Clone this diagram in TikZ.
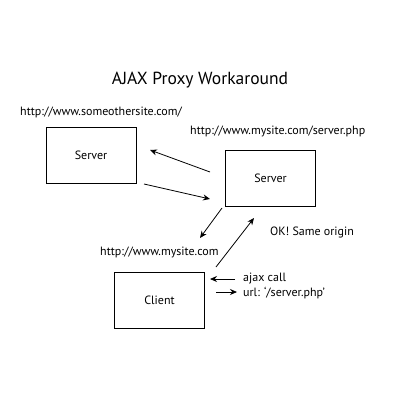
\documentclass[tikz,border=0pt]{standalone}
\usepackage{fontspec}
\setmainfont{PT Sans}
\usetikzlibrary{arrows.meta, positioning}
\tikzset{
  box/.style={draw, thick, minimum width=90pt, minimum height=56pt, font=\fontsize{12}{14}\selectfont},
  lbl/.style={font=\fontsize{12}{14}\selectfont, anchor=west, inner sep=0pt},
  flow/.style={-{Stealth[length=7pt,width=6pt]}, thick}
}
\begin{document}
\begin{tikzpicture}[x=1pt, y=-1pt]
  \useasboundingbox (0,0) rectangle (400,400);
  \node[font=\fontsize{17.5}{20}\selectfont] (title) at (200,80) {AJAX Proxy Workaround};
  % boxes
  \node[box] (other) at (91,155) {Server};
  \node[box] (proxy) at (270.5,178) {Server};
  \node[box] (client) at (159.5,300) {Client};
  % urls
  \node[lbl] (otherurl) at (20,112) {http://www.someothersite.com/};
  \node[lbl] (proxyurl) at (190,131) {http://www.mysite.com/server.php};
  \node[lbl] (clienturl) at (100,252) {http://www.mysite.com};
  \node[lbl] (same) at (270,232) {OK! Same origin};
  \node[lbl] (call) at (243,279) {ajax call};
  \node[lbl] (url) at (243,293) {url: `/server.php'};
  % arrow ends
  \coordinate (a1) at (210,172); \coordinate (b1) at (150,150);
  \coordinate (a2) at (144,184); \coordinate (b2) at (210,199);
  \coordinate (a3) at (222,208); \coordinate (b3) at (200,238);
  \coordinate (a4) at (216,267); \coordinate (b4) at (254,218);
  \coordinate (a5) at (235,279); \coordinate (b5) at (210,279);
  \coordinate (a6) at (216,292); \coordinate (b6) at (237,292);
  \draw[flow] (a1) -- (b1);
  \draw[flow] (a2) -- (b2);
  \draw[flow] (a3) -- (b3);
  \draw[flow] (a4) -- (b4);
  \draw[flow] (a5) -- (b5);
  \draw[flow] (a6) -- (b6);
\end{tikzpicture}
\end{document}
